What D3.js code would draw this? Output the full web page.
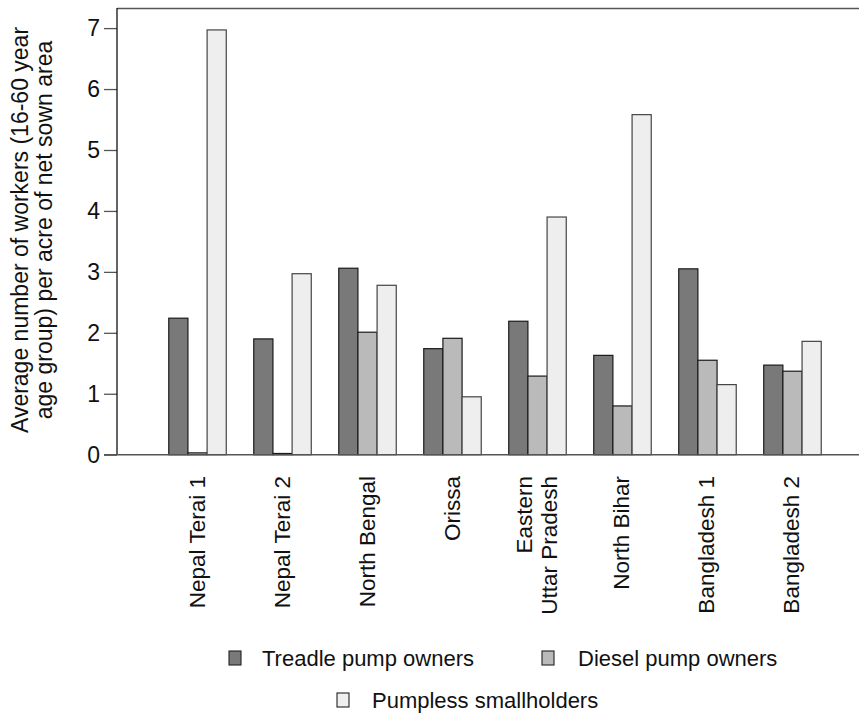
<!DOCTYPE html>
<html>
<head>
<meta charset="utf-8">
<script src="https://cdn.jsdelivr.net/npm/d3@7"></script>
<style>
  html, body { margin: 0; padding: 0; background: #fff; }
  svg { display: block; font-family: "Liberation Sans", Arial, sans-serif; }
</style>
</head>
<body>
<svg id="chart" width="859" height="713"></svg>
<script>
const regions = ["Nepal Terai 1", "Nepal Terai 2", "North Bengal", "Orissa", "Eastern\nUttar Pradesh", "North Bihar", "Bangladesh 1", "Bangladesh 2"];
const seriesNames = ["Treadle pump owners", "Diesel pump owners", "Pumpless smallholders"];
const treadle  = [2.24, 1.90, 3.06, 1.74, 2.19, 1.63, 3.05, 1.47];
const diesel   = [0.03, 0.02, 2.01, 1.91, 1.29, 0.80, 1.55, 1.37];
const pumpless = [6.97, 2.97, 2.78, 0.95, 3.90, 5.58, 1.15, 1.86];
const yTicks = [0, 1, 2, 3, 4, 5, 6, 7];
const yTitle = ["Average number of workers (16-60 year", "age group) per acre of net sown area"];

const colors = ["#797979", "#bababa", "#eeeeee"];
const strokes = ["#1a1a1a", "#1a1a1a", "#444"];
const series = [treadle, diesel, pumpless];

const svg = d3.select("#chart");
const plotL = 117, plotR = 859, plotT = 8, plotB = 454.7;

const y = d3.scaleLinear().domain([0, 7.33]).range([plotB, plotT]);
const x0 = d3.scaleBand().domain(regions).range([155, 835]).paddingInner(0.3235).paddingOuter(0.162);
const x1 = d3.scaleBand().domain(seriesNames).range([0, x0.bandwidth()]);

// frame
svg.append("line").attr("x1", plotL).attr("x2", plotR).attr("y1", plotT + 0.5).attr("y2", plotT + 0.5)
  .attr("stroke", "#555").attr("stroke-width", 1.3);

// bars
const g = svg.append("g");
regions.forEach((r, i) => {
  series.forEach((s, j) => {
    const v = s[i];
    g.append("rect")
      .attr("x", x0(r) + x1(seriesNames[j]))
      .attr("y", y(v))
      .attr("width", x1.bandwidth())
      .attr("height", y(0) - y(v))
      .attr("fill", colors[j])
      .attr("stroke", strokes[j])
      .attr("stroke-width", 1.2);
  });
});

// y axis
const yAxis = d3.axisLeft(y).tickValues(yTicks).tickSize(13).tickPadding(4).tickFormat(d3.format("d"));
const ya = svg.append("g").attr("transform", `translate(${plotL},0)`).call(yAxis);
ya.select(".domain").remove();
ya.selectAll(".tick line").attr("stroke", "#555").attr("stroke-width", 1.3);
ya.selectAll(".tick text").attr("font-size", "23px").attr("fill", "#111")
  .attr("font-family", "Liberation Sans, Arial, sans-serif");
svg.append("line").attr("x1", plotL).attr("x2", plotL).attr("y1", plotT).attr("y2", plotB)
  .attr("stroke", "#111").attr("stroke-width", 1.3);
// baseline
svg.append("line").attr("x1", plotL - 13).attr("x2", plotR).attr("y1", plotB).attr("y2", plotB)
  .attr("stroke", "#555").attr("stroke-width", 1.6);

// x labels
regions.forEach(r => {
  const lines = r.split("\n");
  const cx = x0(r) + x0.bandwidth() / 2;
  lines.forEach((ln, k) => {
    const off = (k - (lines.length - 1) / 2) * 25;
    svg.append("text")
      .attr("transform", `translate(${cx + off + 7},476) rotate(-90)`)
      .attr("text-anchor", "end")
      .attr("font-size", "22.5px")
      .attr("fill", "#111")
      .text(ln);
  });
});

// y title
yTitle.forEach((t, k) => {
  svg.append("text")
    .attr("transform", `translate(${28 + k * 24},230) rotate(-90)`)
    .attr("text-anchor", "middle")
    .attr("font-size", "23px")
    .attr("fill", "#111")
    .text(t);
});

// legend
const legendItems = [
  { name: seriesNames[0], sx: 229, tx: 262, y: 658 },
  { name: seriesNames[1], sx: 542, tx: 578, y: 658 },
  { name: seriesNames[2], sx: 337, tx: 372, y: 700 }
];
legendItems.forEach((it, j) => {
  svg.append("rect").attr("x", it.sx).attr("y", it.y - 7).attr("width", 12).attr("height", 14)
    .attr("fill", colors[j]).attr("stroke", "#222").attr("stroke-width", 1.1);
  svg.append("text")
    .attr("x", it.tx).attr("y", it.y + 8)
    .attr("font-size", "22px")
    .attr("fill", "#111")
    .text(it.name);
});
</script>
</body>
</html>
